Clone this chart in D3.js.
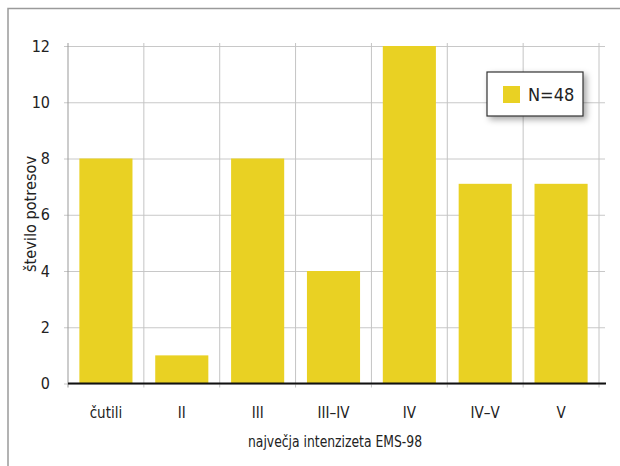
<!DOCTYPE html>
<html>
<head>
<meta charset="utf-8">
<script src="https://cdn.jsdelivr.net/npm/d3@7"></script>
<style>
  html, body { margin: 0; padding: 0; background: #fff; }
  svg { display: block; }
  text { font-family: "Liberation Sans Narrow", "DejaVu Sans Condensed", "Roboto", sans-serif; fill: #222; }
</style>
</head>
<body>
<svg id="chart" width="620" height="466"></svg>
<script>
// Number of earthquakes by maximum EMS-98 intensity
const categories = ["čutili", "II", "III", "III–IV", "IV", "IV–V", "V"];
const counts = [8, 1, 8, 4, 12, 7.1, 7.1];
const yTicks = [0, 2, 4, 6, 8, 10, 12];
const seriesName = "N=48";
const yTitle = "število potresov";
const xTitle = "največja intenzizeta EMS-98";

const svg = d3.select("#chart");
const plotLeft = 68, plotRight = 599, plotTop = 46, plotBottom = 383.5;
const barColor = "#e9d123";

const x = d3.scaleBand().domain(categories).range([plotLeft, plotRight]).paddingInner(0.3).paddingOuter(0.15);
const xLines = d3.scaleBand().domain(categories).range([plotLeft, plotRight]);
const y = d3.scaleLinear().domain([0, 12]).range([plotBottom, plotTop]);

// outer frame (top and left edges)
svg.append("path")
  .attr("d", "M8,466 L8,8.5 L620,8.5")
  .attr("fill", "none").attr("stroke", "#9a9a9a").attr("stroke-width", 1.5);

// horizontal gridlines with outward ticks
const yAxis = d3.axisLeft(y).tickValues(yTicks).tickSize(-(plotRight - plotLeft + 6)).tickPadding(18).tickFormat(d3.format("d"));
const gy = svg.append("g").attr("transform", `translate(${plotLeft},0)`).call(yAxis);
gy.select(".domain").remove();
gy.selectAll(".tick line").attr("stroke", "#c8c8c8").attr("x1", -4);
gy.selectAll(".tick text").attr("font-size", 16).attr("fill", "#222")
  .style("font-family", "'Liberation Sans Narrow', 'DejaVu Sans Condensed', sans-serif");

// vertical gridlines at category boundaries
const bounds = categories.map(c => xLines(c)).concat([plotRight]);
svg.append("g").selectAll("line").data(bounds).join("line")
  .attr("x1", d => d).attr("x2", d => d)
  .attr("y1", plotTop - 3).attr("y2", plotBottom + 4)
  .attr("stroke", d => d === plotLeft ? "#999" : "#c4c4c4").attr("stroke-width", 1);

// bars
svg.append("g").selectAll("rect").data(counts).join("rect")
  .attr("x", (d, i) => x(categories[i]))
  .attr("width", x.bandwidth())
  .attr("y", d => y(d))
  .attr("height", d => y(0) - y(d))
  .attr("fill", barColor);

// baseline
svg.append("line")
  .attr("x1", plotLeft).attr("x2", plotRight + 7)
  .attr("y1", y(0)).attr("y2", y(0))
  .attr("stroke", "#111").attr("stroke-width", 2);

// category labels
svg.append("g").selectAll("text").data(categories).join("text")
  .attr("x", d => xLines(d) + xLines.bandwidth() / 2)
  .attr("y", 418)
  .attr("text-anchor", "middle")
  .attr("font-size", 15)
  .text(d => d);

// axis titles
svg.append("text")
  .attr("x", 335).attr("y", 447)
  .attr("text-anchor", "middle").attr("font-size", 16)
  .attr("textLength", 174).attr("lengthAdjust", "spacingAndGlyphs")
  .text(xTitle);
svg.append("text")
  .attr("transform", "translate(36,214) rotate(-90)")
  .attr("text-anchor", "middle").attr("font-size", 15)
  .attr("textLength", 116).attr("lengthAdjust", "spacingAndGlyphs")
  .text(yTitle);

// legend with soft drop shadow
const defs = svg.append("defs");
const f = defs.append("filter").attr("id", "shadow").attr("x", "-20%").attr("y", "-30%").attr("width", "150%").attr("height", "170%");
f.append("feDropShadow").attr("dx", 3).attr("dy", 3).attr("stdDeviation", 3).attr("flood-color", "#000").attr("flood-opacity", 0.35);
const lg = svg.append("g").attr("transform", "translate(487,72)");
lg.append("rect").attr("width", 96).attr("height", 44)
  .attr("fill", "#fff").attr("stroke", "#333").attr("stroke-width", 1.2)
  .attr("filter", "url(#shadow)");
lg.append("rect").attr("x", 16).attr("y", 14).attr("width", 17).attr("height", 17).attr("fill", barColor);
lg.append("text").attr("x", 41).attr("y", 29).attr("font-size", 18).text(seriesName);
</script>
</body>
</html>
